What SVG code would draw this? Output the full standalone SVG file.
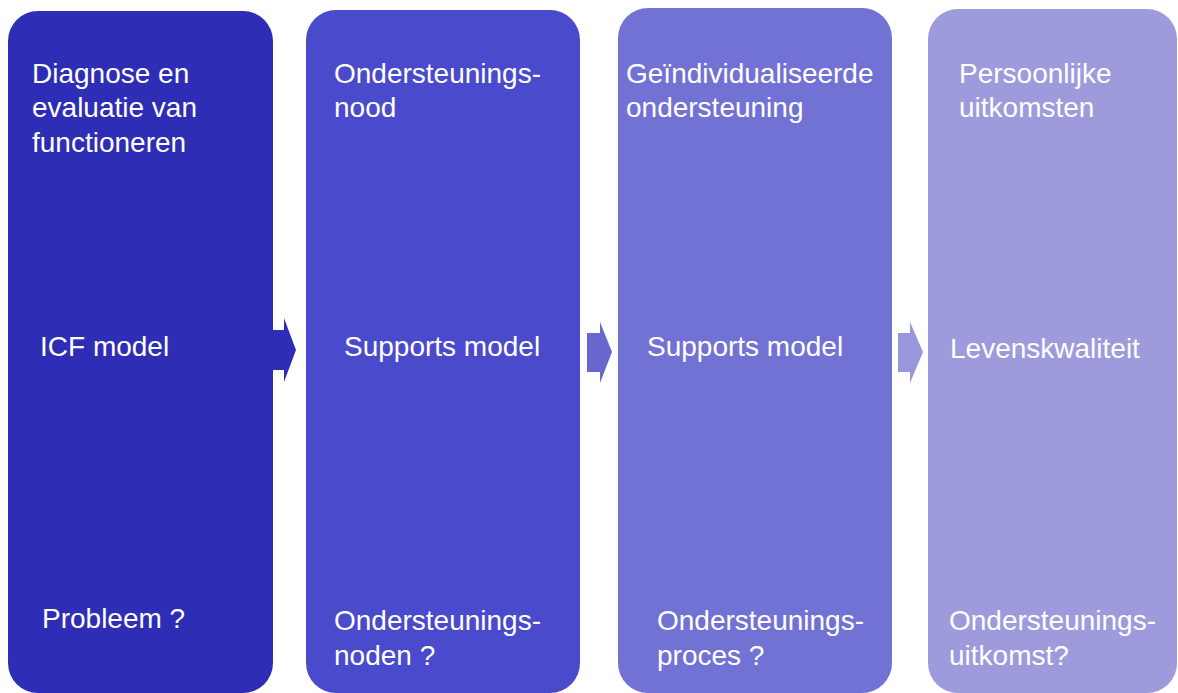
<svg xmlns="http://www.w3.org/2000/svg" width="1178" height="693" viewBox="0 0 1178 693">
  <style>
    .lbl { font-family: "Liberation Sans", Arial, sans-serif; font-size: 28px; fill: #ffffff; }
    .b1 { fill: #2e2db5; }
    .b2 { fill: #4a4acc; }
    .b3 { fill: #7272d5; }
    .b4 { fill: #9d9bdb; }
  </style>
  <rect width="1178" height="693" fill="#ffffff"/>

  <!-- step arrows between the columns -->
  <g id="connectors">
    <polygon class="b1" points="273,330 284,330 284,318 296,350 284,382 284,370 273,370"/>
    <polygon fill="#6767cf" points="587,333 600,333 600,322 612,352 600,383 600,372 587,372"/>
    <polygon fill="#9897da" points="898,333 910,333 910,322 923,352 910,383 910,372 898,372"/>
  </g>

  <g id="stap-diagnose">
    <rect class="b1" x="8" y="11" width="265" height="682" rx="30" ry="30"/>
    <text class="lbl" x="32" y="83">Diagnose en</text>
    <text class="lbl" x="32" y="117">evaluatie van</text>
    <text class="lbl" x="32" y="152">functioneren</text>
    <text class="lbl" x="40" y="356">ICF model</text>
    <text class="lbl" x="42" y="628">Probleem ?</text>
  </g>

  <g id="stap-nood">
    <rect class="b2" x="306" y="10" width="274" height="683" rx="30" ry="30"/>
    <text class="lbl" x="334" y="83">Ondersteunings-</text>
    <text class="lbl" x="334" y="117">nood</text>
    <text class="lbl" x="344" y="356">Supports model</text>
    <text class="lbl" x="334" y="630">Ondersteunings-</text>
    <text class="lbl" x="334" y="665">noden ?</text>
  </g>

  <g id="stap-ondersteuning">
    <rect class="b3" x="618" y="8" width="274" height="685" rx="30" ry="30"/>
    <text class="lbl" x="626" y="83">Geïndividualiseerde</text>
    <text class="lbl" x="626" y="117">ondersteuning</text>
    <text class="lbl" x="647" y="356">Supports model</text>
    <text class="lbl" x="657" y="630">Ondersteunings-</text>
    <text class="lbl" x="657" y="665">proces ?</text>
  </g>

  <g id="stap-uitkomsten">
    <rect class="b4" x="928" y="9" width="249" height="684" rx="30" ry="30"/>
    <text class="lbl" x="959" y="83">Persoonlijke</text>
    <text class="lbl" x="959" y="117">uitkomsten</text>
    <text class="lbl" x="950" y="358">Levenskwaliteit</text>
    <text class="lbl" x="949" y="630">Ondersteunings-</text>
    <text class="lbl" x="949" y="665">uitkomst?</text>
  </g>
</svg>
